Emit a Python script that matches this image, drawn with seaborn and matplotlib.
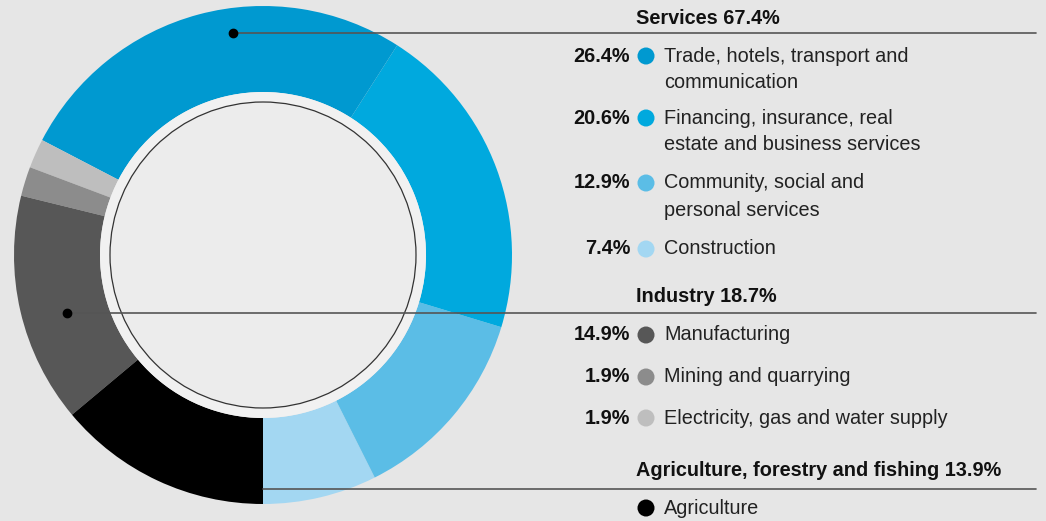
import matplotlib
matplotlib.use("Agg")
import matplotlib.pyplot as plt
import seaborn as sns
import pandas as pd
from matplotlib.patches import Circle

# wedge order: counterclockwise starting at the bottom of the ring
sectors = ["Construction", "Community", "Financing", "Trade",
           "Electricity", "Mining", "Manufacturing", "Agriculture"]
shares = [7.4, 12.9, 20.6, 26.4, 1.9, 1.9, 14.9, 13.9]
colors = ["#a3d7f2", "#5bbde6", "#00a9de", "#0099d0",
          "#bebebe", "#8c8c8c", "#575757", "#000000"]

# legend rows
row_pct = ["26.4%", "20.6%", "12.9%", "7.4%", "14.9%", "1.9%", "1.9%", ""]
row_text = ["Trade, hotels, transport and\ncommunication",
            "Financing, insurance, real\nestate and business services",
            "Community, social and\npersonal services",
            "Construction",
            "Manufacturing",
            "Mining and quarrying",
            "Electricity, gas and water supply",
            "Agriculture"]
row_color = ["#0099d0", "#00a9de", "#5bbde6", "#a3d7f2",
             "#575757", "#8c8c8c", "#bebebe", "#000000"]
row_y = [56, 118, 183, 249, 335, 377, 418, 508]

groups = ["Services 67.4%", "Industry 18.7%",
          "Agriculture, forestry and fishing 13.9%"]
group_y = [18, 296, 470]
group_line_y = [33, 313, 489]
group_line_x0 = [233, 67, 263]
group_dot = [True, True, False]

W, H = 1046, 521
BG = "#e6e6e6"

sns.set_style("white", rc={"axes.facecolor": BG, "figure.facecolor": BG})
plt.rcParams["font.family"] = ["Liberation Sans", "DejaVu Sans"]

fig = plt.figure(figsize=(W / 100, H / 100), dpi=100)
ax = fig.add_axes([0, 0, 1, 1])

cx, cy, R = 263, 255, 249
ax.pie(shares, colors=colors, startangle=90, counterclock=False,
       center=(cx, cy), radius=R,
       wedgeprops=dict(width=R - 163, linewidth=0))
ax.add_patch(Circle((cx, cy), 163, fc="#f1f1f1", ec="none", zorder=3))
ax.add_patch(Circle((cx, cy), 153, fc="#ececec", ec="#333333", lw=0.9, zorder=4))

# leader lines
for x0, ly, dot in zip(group_line_x0, group_line_y, group_dot):
    ax.plot([x0, 1036], [ly, ly], color="#555555", lw=1.2, zorder=6)
    if dot:
        ax.plot(x0, ly, "o", color="black", ms=6, zorder=7)

fs = 14.3
base = 5.5  # baseline offset below the row centre
for g, gy in zip(groups, group_y):
    ax.text(636, gy + base, g, fontsize=fs, fontweight="bold", va="baseline",
            ha="left", color="#111111")

dots = pd.DataFrame({"x": [646] * len(row_y), "y": row_y, "c": row_text})
sns.scatterplot(data=dots, x="x", y="y", hue="c", palette=row_color,
                s=150, linewidth=0, legend=False, ax=ax, zorder=8)

for p, t, y in zip(row_pct, row_text, row_y):
    if p:
        ax.text(630, y + base, p, fontsize=fs, fontweight="bold",
                va="baseline", ha="right", color="#111111")
    for i, line in enumerate(t.split("\n")):
        ax.text(664, y + base + 27 * i, line, fontsize=fs, va="baseline",
                ha="left", color="#222222")

ax.set_xlim(0, W)
ax.set_ylim(H, 0)
ax.set_axis_off()

fig.savefig("out.png", dpi=100, facecolor=BG)
